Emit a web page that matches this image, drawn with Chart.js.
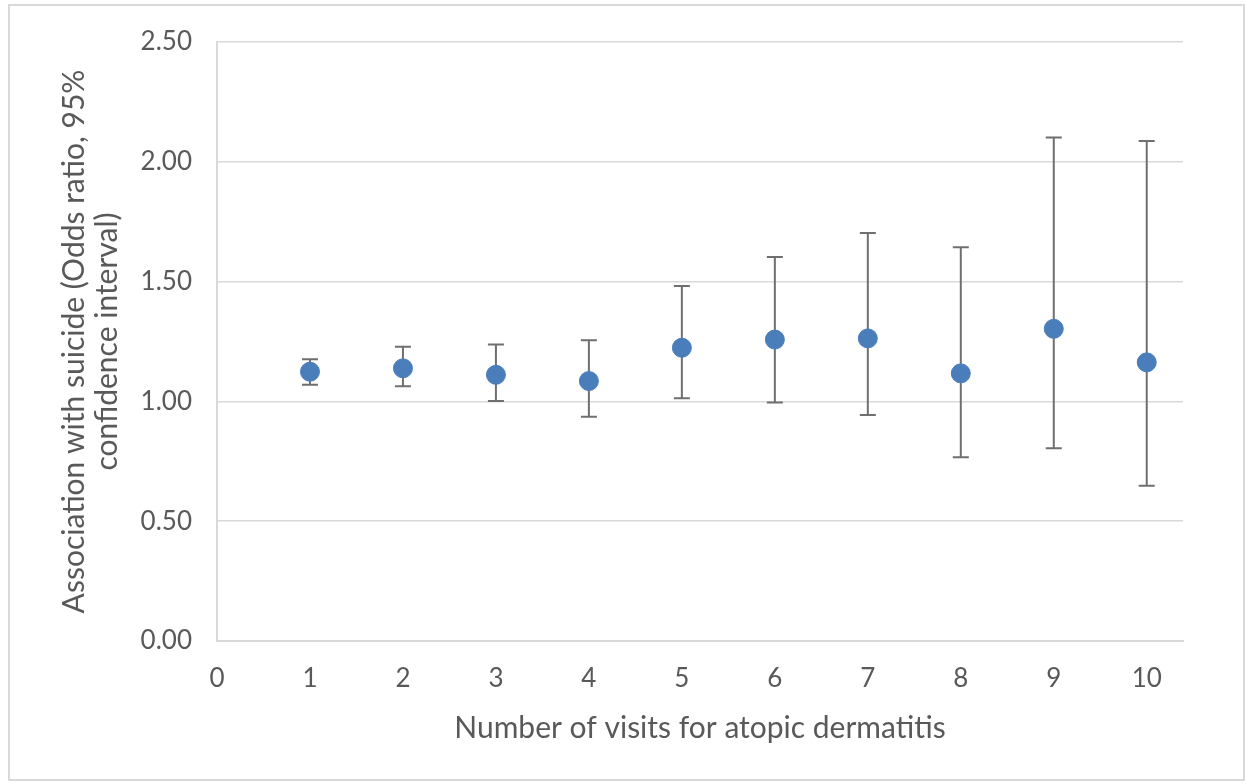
<!DOCTYPE html>
<html>
<head>
<meta charset="utf-8">
<script src="https://cdn.jsdelivr.net/npm/chart.js@4/dist/chart.umd.min.js"></script>
<style>
  html, body { margin: 0; padding: 0; background: #fff; }
  #wrap { width: 1246px; height: 784px; position: relative; }
</style>
</head>
<body>
<div id="wrap"><canvas id="c" width="1246" height="784"></canvas></div>
<script>
const visits = [1, 2, 3, 4, 5, 6, 7, 8, 9, 10];
const oddsRatio = [1.124, 1.138, 1.111, 1.085, 1.224, 1.258, 1.263, 1.117, 1.303, 1.163];
const ciLower = [1.070, 1.063, 1.002, 0.936, 1.013, 0.995, 0.943, 0.767, 0.804, 0.648];
const ciUpper = [1.176, 1.228, 1.237, 1.255, 1.482, 1.603, 1.703, 1.643, 2.101, 2.087];
const xTicks = [0, 1, 2, 3, 4, 5, 6, 7, 8, 9, 10];
const yTicks = [0, 0.5, 1.0, 1.5, 2.0, 2.5];
const xTitle = 'Number of visits for atopic dermatitis';
const yTitle = ['Association with suicide (Odds ratio, 95%', 'confidence interval)'];

const FONT = 'Lato, "Open Sans", sans-serif';
const TXT = '#595959';

const errorBars = {
  id: 'errorBars',
  beforeDatasetsDraw(chart) {
    const {ctx, scales: {x, y}} = chart;
    ctx.save();
    ctx.strokeStyle = '#6f6f6f';
    ctx.lineWidth = 2;
    const cap = 8;
    visits.forEach((v, i) => {
      const px = x.getPixelForValue(v);
      const lo = y.getPixelForValue(ciLower[i]);
      const hi = y.getPixelForValue(ciUpper[i]);
      ctx.beginPath();
      ctx.moveTo(px, lo); ctx.lineTo(px, hi);
      ctx.moveTo(px - cap, lo); ctx.lineTo(px + cap, lo);
      ctx.moveTo(px - cap, hi); ctx.lineTo(px + cap, hi);
      ctx.stroke();
    });
    ctx.restore();
  }
};

const frame = {
  id: 'frame',
  afterDraw(chart) {
    const ctx = chart.ctx;
    ctx.save();
    ctx.strokeStyle = '#d9d9d9';
    ctx.lineWidth = 2;
    ctx.strokeRect(9, 5, 1235, 775);
    ctx.restore();
  }
};

new Chart(document.getElementById('c'), {
  type: 'scatter',
  data: {
    datasets: [{
      data: visits.map((v, i) => ({x: v, y: oddsRatio[i]})),
      backgroundColor: '#4a7ebb',
      borderColor: '#4a7ebb',
      borderWidth: 1,
      pointRadius: 9.5,
      pointHoverRadius: 9.5
    }]
  },
  options: {
    responsive: false,
    animation: false,
    events: [],
    layout: { padding: { top: 42, right: 63, left: 0, bottom: 0 } },
    plugins: { legend: { display: false }, tooltip: { enabled: false } },
    scales: {
      x: {
        type: 'linear',
        min: 0,
        max: 10.39,
        afterBuildTicks(scale) { scale.ticks = xTicks.map(v => ({value: v})); },
        afterFit(scale) { scale.height = 143; },
        grid: { display: false, drawTicks: false },
        border: { display: true, color: '#d9d9d9', width: 2 },
        ticks: { color: TXT, font: { family: FONT, size: 26 }, padding: 22, maxRotation: 0 },
        title: { display: true, text: xTitle, color: TXT, font: { family: FONT, size: 30 }, padding: { top: 0, bottom: 38 } }
      },
      y: {
        min: 0,
        max: 2.5,
        afterBuildTicks(scale) { scale.ticks = yTicks.map(v => ({value: v})); },
        afterFit(scale) { scale.width = 217; },
        grid: { color: '#d9d9d9', lineWidth: 1.5, drawTicks: false },
        border: { display: true, color: '#d9d9d9', width: 2 },
        ticks: { color: TXT, font: { family: FONT, size: 26 }, padding: 25, callback: v => v.toFixed(2) },
        title: { display: true, text: yTitle, color: TXT, font: { family: FONT, size: 30, lineHeight: 1.1 }, padding: { top: 58, bottom: 0 } }
      }
    }
  },
  plugins: [errorBars, frame]
});
</script>
</body>
</html>
